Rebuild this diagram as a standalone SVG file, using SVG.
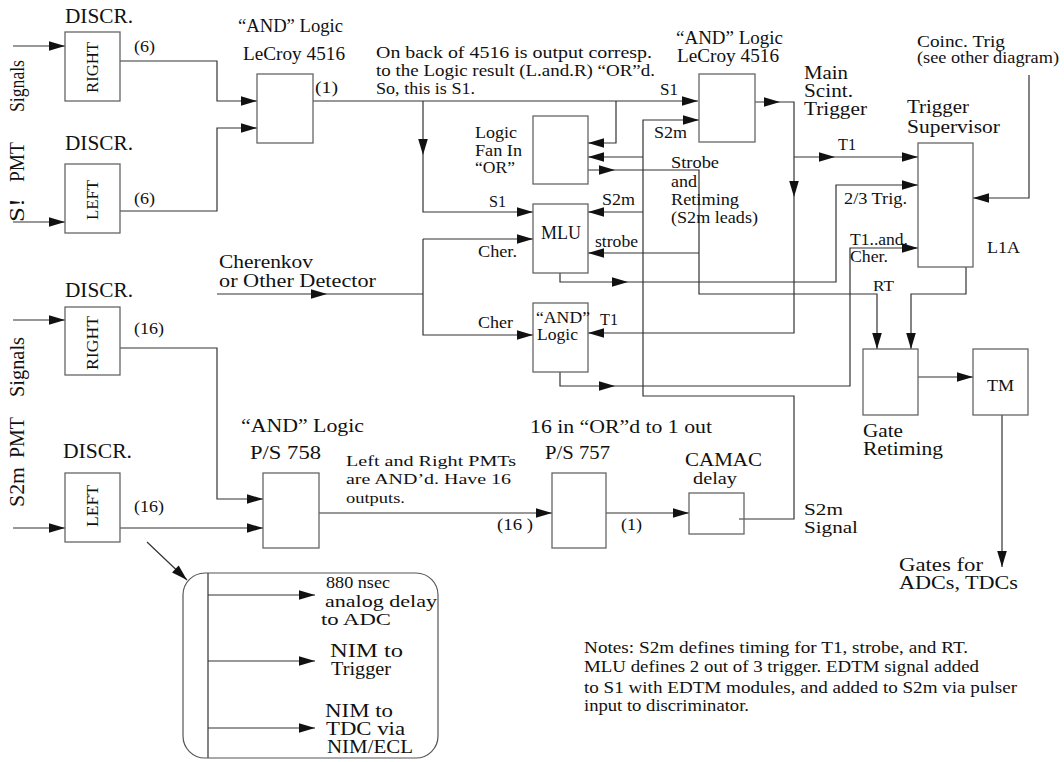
<svg xmlns="http://www.w3.org/2000/svg" xmlns:xlink="http://www.w3.org/1999/xlink" width="1064" height="762" viewBox="0 0 1064 762">
<style>
text{font-family:"Liberation Serif","Times New Roman",serif;fill:#111}
.s15{font-size:15px}.s16{font-size:16px}.s17{font-size:17px}.s18{font-size:18px}.s19{font-size:19px}.s20{font-size:20px}
.box{fill:#fff;stroke:#666;stroke-width:1.3}
.ln{fill:none;stroke:#333;stroke-width:1.2}
.ah{fill:#111}
</style>
<defs>
<path id="ah" class="ah" d="M0,0 L-16,-4.8 L-16,4.8 Z"/>
</defs>
<rect width="1064" height="762" fill="#fff"/>

<g id="connectors">
<path class="ln" d="M13,46 H65 M13,222 H65 M120,61 H217 V101 H257 M120,211 H217 V128 H257"/>
<path class="ln" d="M313,101 H698 M423,101 V212 H533 M616,101 V143 H588"/>
<path class="ln" d="M739,519 H794 V396 H643 V120 H699 M643,157 H588 M643,212 H588"/>
<path class="ln" d="M588,170 H699 V294 H877 V349 M699,253 H588"/>
<path class="ln" d="M755,102 H794 V333 H588 M794,157 H918 M1029,75 V198 H973"/>
<path class="ln" d="M560,273 V282 H836 V185 H918 M560,372 V386 H850 V248 H918"/>
<path class="ln" d="M217,294 H423 M423,239 H533 M423,239 V335 H533"/>
<path class="ln" d="M966,267 V294 H911 V349 M918,377 H973 M1002,415 V567"/>
<path class="ln" d="M13,320 H65 M120,348 H217 V499 H263 M13,528 H65 M120,528 H263 M319,513 H552 M606,513 H689"/>
<path class="ln" d="M147,542 L187,580 M208,573 V758 M208,595 H315 M208,661 H315 M208,728 H315"/>
<g id="arrowheads">
<use xlink:href="#ah" transform="translate(65,46)"/>
<use xlink:href="#ah" transform="translate(65,222)"/>
<use xlink:href="#ah" transform="translate(257,101)"/>
<use xlink:href="#ah" transform="translate(257,128)"/>
<use xlink:href="#ah" transform="translate(698,101)"/>
<use xlink:href="#ah" transform="translate(533,212)"/>
<use xlink:href="#ah" transform="translate(699,120)"/>
<use xlink:href="#ah" transform="translate(615,170)"/>
<use xlink:href="#ah" transform="translate(780,102)"/>
<use xlink:href="#ah" transform="translate(835,157)"/>
<use xlink:href="#ah" transform="translate(918,157)"/>
<use xlink:href="#ah" transform="translate(628,282)"/>
<use xlink:href="#ah" transform="translate(918,185)"/>
<use xlink:href="#ah" transform="translate(615,386)"/>
<use xlink:href="#ah" transform="translate(918,248)"/>
<use xlink:href="#ah" transform="translate(327,294)"/>
<use xlink:href="#ah" transform="translate(533,239)"/>
<use xlink:href="#ah" transform="translate(533,335)"/>
<use xlink:href="#ah" transform="translate(973,377)"/>
<use xlink:href="#ah" transform="translate(65,320)"/>
<use xlink:href="#ah" transform="translate(65,528)"/>
<use xlink:href="#ah" transform="translate(263,499)"/>
<use xlink:href="#ah" transform="translate(263,528)"/>
<use xlink:href="#ah" transform="translate(552,513)"/>
<use xlink:href="#ah" transform="translate(689,513)"/>
<use xlink:href="#ah" transform="translate(315,595)"/>
<use xlink:href="#ah" transform="translate(315,661)"/>
<use xlink:href="#ah" transform="translate(315,728)"/>
<use xlink:href="#ah" transform="translate(588,143) rotate(180)"/>
<use xlink:href="#ah" transform="translate(588,157) rotate(180)"/>
<use xlink:href="#ah" transform="translate(588,212) rotate(180)"/>
<use xlink:href="#ah" transform="translate(588,253) rotate(180)"/>
<use xlink:href="#ah" transform="translate(588,333) rotate(180)"/>
<use xlink:href="#ah" transform="translate(973,198) rotate(180)"/>
<use xlink:href="#ah" transform="translate(423,155) rotate(90)"/>
<use xlink:href="#ah" transform="translate(877,349) rotate(90)"/>
<use xlink:href="#ah" transform="translate(794,197) rotate(90)"/>
<use xlink:href="#ah" transform="translate(911,349) rotate(90)"/>
<use xlink:href="#ah" transform="translate(1002,567) rotate(90)"/>
<use xlink:href="#ah" transform="translate(187,580) rotate(43.5)"/>
</g>
</g>

<g id="s1-signals-label">
<text class="s20" transform="translate(24,222) rotate(-90)"><tspan x="0" textLength="24" lengthAdjust="spacingAndGlyphs">S!</tspan><tspan x="40" textLength="40" lengthAdjust="spacingAndGlyphs">PMT</tspan><tspan x="110" textLength="52" lengthAdjust="spacingAndGlyphs">Signals</tspan></text>
</g>
<g id="s2m-signals-label">
<text class="s20" transform="translate(24,507) rotate(-90)"><tspan x="0" textLength="40" lengthAdjust="spacingAndGlyphs">S2m</tspan><tspan x="49" textLength="41" lengthAdjust="spacingAndGlyphs">PMT</tspan><tspan x="110" textLength="60" lengthAdjust="spacingAndGlyphs">Signals</tspan></text>
</g>

<g id="discr-right-1">
<text class="s20" x="65" y="23" textLength="68" lengthAdjust="spacingAndGlyphs">DISCR.</text>
<rect class="box" x="65" y="32" width="55" height="69"/>
<text class="s17" transform="translate(98,93) rotate(-90)" textLength="51" lengthAdjust="spacingAndGlyphs">RIGHT</text>
<text class="s16" x="134" y="52" textLength="21" lengthAdjust="spacingAndGlyphs">(6)</text>
</g>
<g id="discr-left-1">
<text class="s20" x="65" y="150" textLength="68" lengthAdjust="spacingAndGlyphs">DISCR.</text>
<rect class="box" x="65" y="164" width="55" height="69"/>
<text class="s17" transform="translate(98,220) rotate(-90)" textLength="40" lengthAdjust="spacingAndGlyphs">LEFT</text>
<text class="s16" x="134" y="204" textLength="21" lengthAdjust="spacingAndGlyphs">(6)</text>
</g>
<g id="and-4516-a">
<text class="s18" x="238" y="32" textLength="105" lengthAdjust="spacingAndGlyphs">“AND”  Logic</text>
<text class="s18" x="243" y="60" textLength="102" lengthAdjust="spacingAndGlyphs">LeCroy  4516</text>
<rect class="box" x="257" y="74" width="56" height="69"/>
<text class="s16" x="315" y="93" textLength="23" lengthAdjust="spacingAndGlyphs">(1)</text>
</g>
<g id="note-4516">
<text class="s17" x="376" y="58" textLength="276" lengthAdjust="spacingAndGlyphs">On back of 4516 is output corresp.</text>
<text class="s17" x="376" y="76" textLength="279" lengthAdjust="spacingAndGlyphs">to the Logic result (L.and.R) “OR”d.</text>
<text class="s17" x="376" y="94" textLength="99" lengthAdjust="spacingAndGlyphs">So, this is S1.</text>
<text class="s16" x="660" y="95" textLength="18" lengthAdjust="spacingAndGlyphs">S1</text>
<text class="s16" x="654" y="138" textLength="33" lengthAdjust="spacingAndGlyphs">S2m</text>
</g>
<g id="fan-in">
<rect class="box" x="533" y="116" width="55" height="68"/>
<text class="s17" x="475" y="138" textLength="42" lengthAdjust="spacingAndGlyphs">Logic</text>
<text class="s17" x="475" y="156" textLength="47" lengthAdjust="spacingAndGlyphs">Fan In</text>
<text class="s17" x="475" y="173" textLength="40" lengthAdjust="spacingAndGlyphs">“OR”</text>
</g>
<g id="and-4516-b">
<text class="s18" x="676" y="44" textLength="107" lengthAdjust="spacingAndGlyphs">“AND”  Logic</text>
<text class="s18" x="677" y="62" textLength="102" lengthAdjust="spacingAndGlyphs">LeCroy  4516</text>
<rect class="box" x="699" y="74" width="56" height="68"/>
</g>
<g id="strobe-label">
<text class="s17" x="671" y="168" textLength="48" lengthAdjust="spacingAndGlyphs">Strobe</text>
<text class="s17" x="671" y="187" textLength="26" lengthAdjust="spacingAndGlyphs">and</text>
<text class="s17" x="671" y="205" textLength="68" lengthAdjust="spacingAndGlyphs">Retiming</text>
<text class="s17" x="671" y="223" textLength="87" lengthAdjust="spacingAndGlyphs">(S2m leads)</text>
</g>
<g id="mlu">
<rect class="box" x="533" y="204" width="55" height="69"/>
<text class="s18" x="541" y="239" textLength="40" lengthAdjust="spacingAndGlyphs">MLU</text>
<text class="s16" x="489" y="207" textLength="17" lengthAdjust="spacingAndGlyphs">S1</text>
<text class="s16" x="602" y="205" textLength="33" lengthAdjust="spacingAndGlyphs">S2m</text>
<text class="s16" x="478" y="257" textLength="39" lengthAdjust="spacingAndGlyphs">Cher.</text>
<text class="s16" x="595" y="247" textLength="43" lengthAdjust="spacingAndGlyphs">strobe</text>
</g>
<g id="and-logic">
<rect class="box" x="533" y="303" width="55" height="69"/>
<text class="s17" x="536" y="323" textLength="54" lengthAdjust="spacingAndGlyphs">“AND”</text>
<text class="s17" x="537" y="340" textLength="41" lengthAdjust="spacingAndGlyphs">Logic</text>
<text class="s16" x="478" y="328" textLength="35" lengthAdjust="spacingAndGlyphs">Cher</text>
<text class="s16" x="600" y="325" textLength="18" lengthAdjust="spacingAndGlyphs">T1</text>
</g>
<g id="cherenkov">
<text class="s18" x="219" y="268" textLength="94" lengthAdjust="spacingAndGlyphs">Cherenkov</text>
<text class="s18" x="219" y="287" textLength="157" lengthAdjust="spacingAndGlyphs">or  Other Detector</text>
</g>
<g id="main-scint-trigger">
<text class="s18" x="804" y="79" textLength="44" lengthAdjust="spacingAndGlyphs">Main</text>
<text class="s18" x="804" y="97" textLength="49" lengthAdjust="spacingAndGlyphs">Scint.</text>
<text class="s18" x="804" y="115" textLength="63" lengthAdjust="spacingAndGlyphs">Trigger</text>
<text class="s16" x="838" y="150" textLength="18" lengthAdjust="spacingAndGlyphs">T1</text>
</g>
<g id="coinc-trig">
<text class="s16" x="917" y="47" textLength="88" lengthAdjust="spacingAndGlyphs">Coinc.  Trig</text>
<text class="s16" x="917" y="63" textLength="142" lengthAdjust="spacingAndGlyphs">(see other diagram)</text>
</g>
<g id="trigger-supervisor">
<text class="s18" x="907" y="113" textLength="62" lengthAdjust="spacingAndGlyphs">Trigger</text>
<text class="s18" x="907" y="133" textLength="93" lengthAdjust="spacingAndGlyphs">Supervisor</text>
<rect class="box" x="918" y="143" width="55" height="124"/>
<text class="s16" x="987" y="253" textLength="33" lengthAdjust="spacingAndGlyphs">L1A</text>
<text class="s16" x="844" y="204" textLength="63" lengthAdjust="spacingAndGlyphs">2/3 Trig.</text>
<text class="s16" x="850" y="245" textLength="58" lengthAdjust="spacingAndGlyphs">T1..and.</text>
<text class="s16" x="850" y="262" textLength="38" lengthAdjust="spacingAndGlyphs">Cher.</text>
</g>
<g id="gate-retiming">
<text class="s15" x="873" y="291" textLength="21" lengthAdjust="spacingAndGlyphs">RT</text>
<rect class="box" x="863" y="349" width="55" height="66"/>
<text class="s18" x="863" y="437" textLength="40" lengthAdjust="spacingAndGlyphs">Gate</text>
<text class="s18" x="863" y="455" textLength="80" lengthAdjust="spacingAndGlyphs">Retiming</text>
</g>
<g id="tm">
<rect class="box" x="973" y="349" width="55" height="66"/>
<text class="s16" x="987" y="391" textLength="27" lengthAdjust="spacingAndGlyphs">TM</text>
<text class="s18" x="899" y="571" textLength="84" lengthAdjust="spacingAndGlyphs">Gates  for</text>
<text class="s18" x="899" y="589" textLength="119" lengthAdjust="spacingAndGlyphs">ADCs,  TDCs</text>
</g>
<g id="discr-right-2">
<text class="s20" x="65" y="297" textLength="68" lengthAdjust="spacingAndGlyphs">DISCR.</text>
<rect class="box" x="65" y="307" width="55" height="68"/>
<text class="s17" transform="translate(98,370) rotate(-90)" textLength="54" lengthAdjust="spacingAndGlyphs">RIGHT</text>
<text class="s16" x="134" y="334" textLength="30" lengthAdjust="spacingAndGlyphs">(16)</text>
</g>
<g id="discr-left-2">
<text class="s20" x="63" y="458" textLength="69" lengthAdjust="spacingAndGlyphs">DISCR.</text>
<rect class="box" x="65" y="473" width="55" height="69"/>
<text class="s17" transform="translate(98,527) rotate(-90)" textLength="42" lengthAdjust="spacingAndGlyphs">LEFT</text>
<text class="s16" x="134" y="512" textLength="30" lengthAdjust="spacingAndGlyphs">(16)</text>
</g>
<g id="ps758">
<text class="s19" x="241" y="432" textLength="123" lengthAdjust="spacingAndGlyphs">“AND”  Logic</text>
<text class="s19" x="250" y="459" textLength="71" lengthAdjust="spacingAndGlyphs">P/S  758</text>
<rect class="box" x="263" y="473" width="56" height="75"/>
<text class="s15" x="346" y="466" textLength="170" lengthAdjust="spacingAndGlyphs">Left and Right PMTs</text>
<text class="s15" x="346" y="484" textLength="165" lengthAdjust="spacingAndGlyphs">are AND’d.  Have 16</text>
<text class="s15" x="346" y="503" textLength="59" lengthAdjust="spacingAndGlyphs">outputs.</text>
</g>
<g id="ps757">
<text class="s19" x="530" y="433" textLength="182" lengthAdjust="spacingAndGlyphs">16 in  “OR”d to 1 out</text>
<text class="s19" x="545" y="459" textLength="65" lengthAdjust="spacingAndGlyphs">P/S 757</text>
<rect class="box" x="552" y="473" width="54" height="75"/>
<text class="s16" x="497" y="530" textLength="36" lengthAdjust="spacingAndGlyphs">(16 )</text>
<text class="s16" x="621" y="530" textLength="21" lengthAdjust="spacingAndGlyphs">(1)</text>
</g>
<g id="camac-delay">
<text class="s18" x="685" y="466" textLength="77" lengthAdjust="spacingAndGlyphs">CAMAC</text>
<text class="s17" x="693" y="484" textLength="44" lengthAdjust="spacingAndGlyphs">delay</text>
<rect class="box" x="689" y="493" width="55" height="41" style="fill:none"/>
<text class="s17" x="804" y="515" textLength="39" lengthAdjust="spacingAndGlyphs">S2m</text>
<text class="s17" x="804" y="533" textLength="54" lengthAdjust="spacingAndGlyphs">Signal</text>
</g>
<g id="outputs-box">
<rect x="183" y="573" width="255" height="185" rx="22" ry="22" fill="none" stroke="#555" stroke-width="1.2"/>
<text class="s17" x="326" y="588" textLength="64" lengthAdjust="spacingAndGlyphs">880 nsec</text>
<text class="s17" x="325" y="607" textLength="112" lengthAdjust="spacingAndGlyphs">analog  delay</text>
<text class="s17" x="321" y="625" textLength="70" lengthAdjust="spacingAndGlyphs">to  ADC</text>
<text class="s18" x="330" y="657" textLength="73" lengthAdjust="spacingAndGlyphs">NIM   to</text>
<text class="s18" x="331" y="675" textLength="60" lengthAdjust="spacingAndGlyphs">Trigger</text>
<text class="s18" x="325" y="717" textLength="68" lengthAdjust="spacingAndGlyphs">NIM  to</text>
<text class="s18" x="326" y="735" textLength="79" lengthAdjust="spacingAndGlyphs">TDC  via</text>
<text class="s18" x="327" y="753" textLength="86" lengthAdjust="spacingAndGlyphs">NIM/ECL</text>
</g>
<g id="notes">
<text class="s17" x="584" y="653" textLength="384" lengthAdjust="spacingAndGlyphs">Notes:  S2m  defines  timing  for  T1,  strobe, and RT.</text>
<text class="s17" x="584" y="672" textLength="395" lengthAdjust="spacingAndGlyphs">MLU  defines  2 out of 3 trigger.  EDTM  signal  added</text>
<text class="s17" x="584" y="693" textLength="433" lengthAdjust="spacingAndGlyphs">to  S1  with  EDTM  modules, and added to S2m via  pulser</text>
<text class="s17" x="584" y="711" textLength="165" lengthAdjust="spacingAndGlyphs">input to discriminator.</text>
</g>
</svg>
